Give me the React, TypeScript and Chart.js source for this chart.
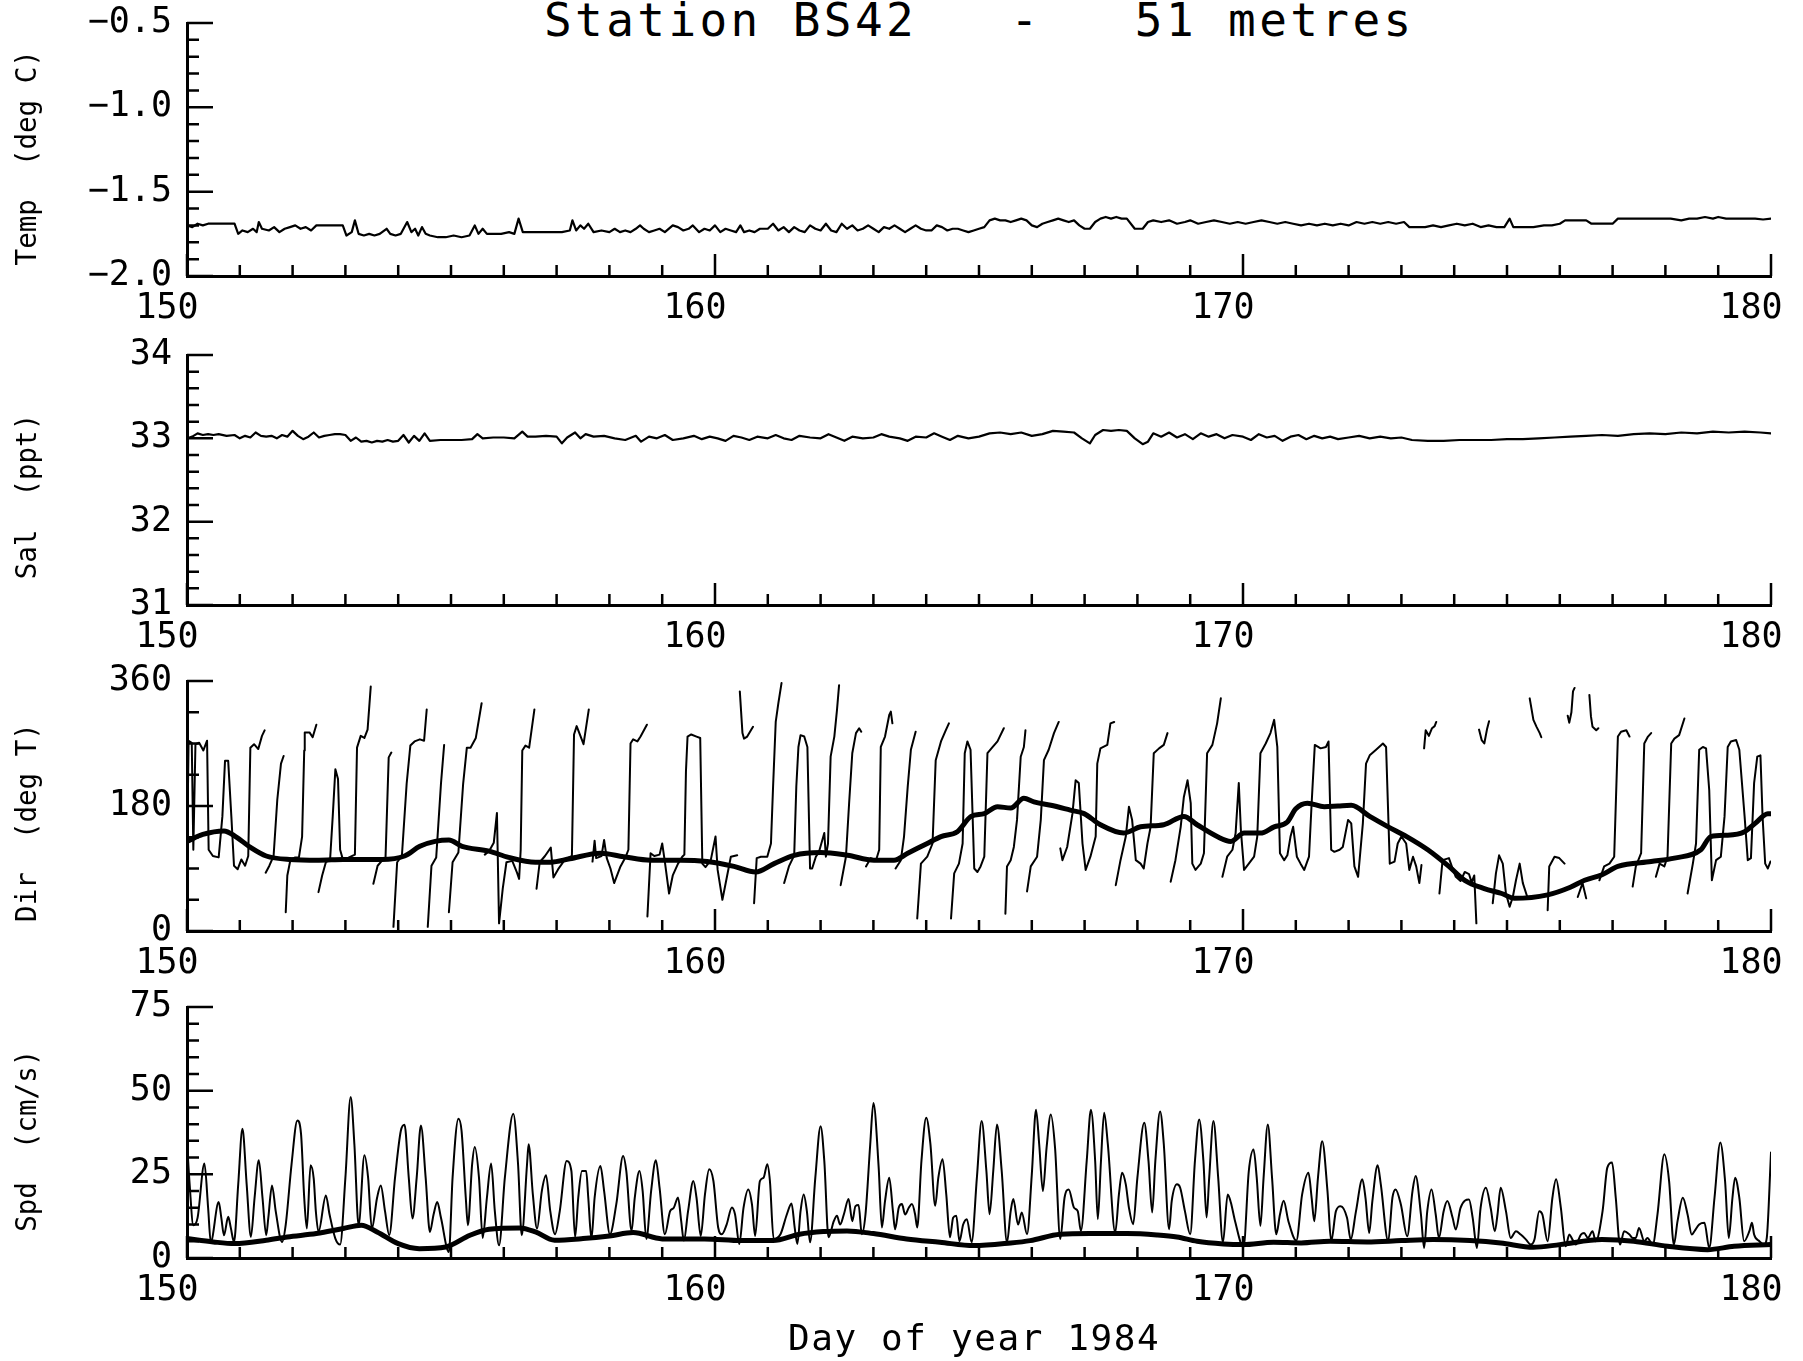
import React, { useEffect, useRef } from "react";
import { Chart, registerables } from "chart.js";

Chart.register(...registerables);

const FONT = '"DejaVu Sans Mono", monospace';

// ---------- axis values ----------
const X_MIN = 150;
const X_MAX = 180;
const X_LABELS = [150, 160, 170, 180];
const TEMP_TICKS = [-2.0, -1.5, -1.0, -0.5];
const SAL_TICKS = [31, 32, 33, 34];
const DIR_TICKS = [0, 180, 360];
const SPD_TICKS = [0, 25, 50, 75];

// ---------- data: [day, value] ----------
const TEMP = [
  [150.0,-1.70],[150.1,-1.71],[150.2,-1.69],[150.3,-1.70],[150.4,-1.69],[150.55,-1.69],[150.7,-1.69],[150.9,-1.69],
  [150.97,-1.75],[151.05,-1.73],[151.15,-1.74],[151.25,-1.72],[151.32,-1.74],[151.36,-1.68],[151.42,-1.72],[151.55,-1.73],
  [151.65,-1.71],[151.75,-1.74],[151.85,-1.72],[151.95,-1.71],[152.05,-1.70],[152.15,-1.72],[152.25,-1.71],[152.35,-1.73],
  [152.45,-1.70],[152.6,-1.70],[152.8,-1.70],[152.95,-1.70],[153.02,-1.76],[153.12,-1.74],[153.18,-1.67],[153.25,-1.75],
  [153.35,-1.76],[153.45,-1.75],[153.55,-1.76],[153.65,-1.75],[153.78,-1.72],[153.85,-1.75],[153.95,-1.76],[154.05,-1.75],
  [154.17,-1.68],[154.25,-1.74],[154.32,-1.72],[154.38,-1.76],[154.45,-1.71],[154.52,-1.75],[154.6,-1.76],[154.75,-1.77],
  [154.9,-1.77],[155.05,-1.76],[155.2,-1.77],[155.35,-1.76],[155.45,-1.70],[155.52,-1.75],[155.6,-1.72],[155.68,-1.75],
  [155.8,-1.75],[155.95,-1.75],[156.1,-1.74],[156.2,-1.75],[156.28,-1.66],[156.36,-1.74],[156.5,-1.74],[156.65,-1.74],
  [156.8,-1.74],[156.95,-1.74],[157.1,-1.74],[157.25,-1.73],[157.3,-1.67],[157.37,-1.73],[157.45,-1.70],[157.52,-1.72],
  [157.6,-1.69],[157.7,-1.74],[157.85,-1.73],[158.0,-1.74],[158.1,-1.72],[158.2,-1.74],[158.3,-1.73],[158.4,-1.74],
  [158.5,-1.72],[158.58,-1.70],[158.65,-1.72],[158.75,-1.74],[158.85,-1.73],[158.95,-1.72],[159.05,-1.74],[159.2,-1.70],
  [159.3,-1.71],[159.4,-1.73],[159.5,-1.72],[159.58,-1.70],[159.7,-1.74],[159.8,-1.72],[159.9,-1.73],[160.0,-1.70],
  [160.1,-1.74],[160.2,-1.72],[160.3,-1.73],[160.4,-1.74],[160.48,-1.70],[160.55,-1.74],[160.65,-1.73],[160.75,-1.74],
  [160.85,-1.72],[161.0,-1.72],[161.1,-1.69],[161.2,-1.73],[161.3,-1.71],[161.4,-1.74],[161.5,-1.71],[161.6,-1.73],
  [161.7,-1.74],[161.8,-1.70],[161.9,-1.72],[162.0,-1.73],[162.1,-1.69],[162.2,-1.73],[162.3,-1.74],[162.4,-1.69],
  [162.5,-1.72],[162.6,-1.70],[162.7,-1.73],[162.8,-1.72],[162.9,-1.70],[163.0,-1.72],[163.1,-1.74],[163.2,-1.71],
  [163.3,-1.72],[163.4,-1.70],[163.5,-1.72],[163.6,-1.74],[163.7,-1.72],[163.8,-1.70],[163.9,-1.72],[164.0,-1.73],
  [164.1,-1.73],[164.2,-1.70],[164.3,-1.71],[164.4,-1.73],[164.5,-1.72],[164.6,-1.72],[164.7,-1.73],[164.8,-1.74],
  [164.9,-1.73],[165.0,-1.72],[165.1,-1.71],[165.2,-1.67],[165.3,-1.66],[165.4,-1.67],[165.5,-1.67],[165.6,-1.68],
  [165.7,-1.67],[165.8,-1.66],[165.9,-1.67],[166.0,-1.70],[166.1,-1.71],[166.2,-1.69],[166.3,-1.68],[166.4,-1.67],
  [166.5,-1.66],[166.6,-1.67],[166.7,-1.68],[166.8,-1.67],[166.9,-1.70],[167.0,-1.72],[167.1,-1.72],[167.2,-1.68],
  [167.3,-1.66],[167.4,-1.65],[167.5,-1.66],[167.6,-1.65],[167.7,-1.66],[167.8,-1.66],[167.95,-1.72],[168.1,-1.72],
  [168.2,-1.68],[168.3,-1.67],[168.45,-1.68],[168.6,-1.67],[168.75,-1.69],[168.9,-1.68],[169.0,-1.67],[169.15,-1.69],
  [169.3,-1.68],[169.45,-1.67],[169.6,-1.68],[169.75,-1.69],[169.9,-1.68],[170.05,-1.69],[170.2,-1.68],[170.35,-1.67],
  [170.5,-1.68],[170.65,-1.69],[170.8,-1.68],[170.95,-1.69],[171.1,-1.70],[171.25,-1.69],[171.4,-1.70],[171.55,-1.69],
  [171.7,-1.70],[171.85,-1.69],[172.0,-1.70],[172.15,-1.68],[172.3,-1.69],[172.45,-1.68],[172.6,-1.69],[172.75,-1.68],
  [172.9,-1.69],[173.05,-1.68],[173.15,-1.71],[173.3,-1.71],[173.45,-1.71],[173.6,-1.70],[173.75,-1.71],[173.9,-1.70],
  [174.05,-1.69],[174.2,-1.70],[174.35,-1.69],[174.5,-1.71],[174.65,-1.70],[174.8,-1.71],[174.95,-1.71],[175.05,-1.66],
  [175.12,-1.71],[175.3,-1.71],[175.5,-1.71],[175.7,-1.70],[175.85,-1.70],[176.0,-1.69],[176.1,-1.67],[176.3,-1.67],
  [176.5,-1.67],[176.6,-1.69],[176.8,-1.69],[177.0,-1.69],[177.1,-1.66],[177.3,-1.66],[177.5,-1.66],[177.7,-1.66],
  [177.9,-1.66],[178.1,-1.66],[178.3,-1.67],[178.45,-1.66],[178.6,-1.66],[178.75,-1.65],[178.9,-1.66],[179.0,-1.65],
  [179.15,-1.66],[179.3,-1.66],[179.5,-1.66],[179.7,-1.66],[179.85,-1.665],[180.0,-1.66],
];

const SAL = [
  [150.0,33.00],[150.1,33.02],[150.2,33.06],[150.3,33.04],[150.4,33.05],[150.5,33.04],[150.6,33.05],[150.75,33.03],
  [150.9,33.04],[151.0,33.00],[151.1,33.03],[151.2,33.01],[151.3,33.07],[151.4,33.03],[151.5,33.02],[151.6,33.03],
  [151.7,33.00],[151.8,33.04],[151.9,33.02],[152.0,33.09],[152.1,33.03],[152.2,32.99],[152.3,33.02],[152.4,33.07],
  [152.5,33.01],[152.6,33.03],[152.7,33.04],[152.8,33.05],[152.9,33.05],[153.0,33.04],[153.1,32.97],[153.2,33.01],
  [153.3,32.96],[153.4,32.97],[153.5,32.95],[153.6,32.97],[153.7,32.96],[153.8,32.98],[153.9,32.96],[154.0,32.97],
  [154.1,33.04],[154.2,32.95],[154.3,33.03],[154.4,32.97],[154.5,33.06],[154.6,32.97],[154.8,32.98],[155.0,32.98],
  [155.2,32.98],[155.4,32.99],[155.5,33.05],[155.6,33.00],[155.8,33.01],[156.0,33.01],[156.2,33.00],[156.35,33.08],
  [156.45,33.02],[156.6,33.02],[156.8,33.03],[157.0,33.02],[157.1,32.94],[157.2,33.01],[157.35,33.07],[157.45,33.00],
  [157.55,33.05],[157.7,33.02],[157.9,33.03],[158.1,33.00],[158.3,32.98],[158.5,33.03],[158.6,32.96],[158.75,33.02],
  [158.9,33.00],[159.05,33.04],[159.2,32.98],[159.4,33.00],[159.6,33.03],[159.75,32.99],[159.9,33.02],[160.05,33.00],
  [160.2,32.97],[160.35,33.03],[160.5,33.01],[160.65,32.98],[160.8,33.02],[161.0,33.00],[161.15,33.04],[161.3,33.00],
  [161.45,32.98],[161.6,33.03],[161.8,33.01],[162.0,33.00],[162.15,33.05],[162.3,33.01],[162.45,32.97],[162.6,33.02],
  [162.8,33.00],[163.0,33.01],[163.15,33.05],[163.3,33.02],[163.5,33.00],[163.65,32.97],[163.8,33.02],[164.0,33.01],
  [164.15,33.06],[164.3,33.02],[164.45,32.98],[164.6,33.03],[164.8,33.00],[165.0,33.02],[165.2,33.06],[165.4,33.07],
  [165.6,33.05],[165.8,33.07],[166.0,33.03],[166.2,33.05],[166.4,33.09],[166.6,33.08],[166.8,33.07],[166.95,33.00],
  [167.1,32.94],[167.2,33.04],[167.35,33.10],[167.5,33.09],[167.65,33.10],[167.8,33.09],[167.95,33.00],[168.1,32.93],
  [168.2,32.96],[168.3,33.06],[168.45,33.02],[168.6,33.07],[168.75,33.01],[168.9,33.05],[169.05,32.99],[169.2,33.06],
  [169.35,33.02],[169.5,33.05],[169.65,33.00],[169.8,33.04],[170.0,33.02],[170.15,32.98],[170.3,33.05],[170.45,33.01],
  [170.6,33.03],[170.75,32.97],[170.9,33.02],[171.05,33.04],[171.2,32.99],[171.35,33.03],[171.5,33.00],[171.65,33.02],
  [171.8,32.99],[172.0,33.01],[172.2,33.03],[172.4,33.00],[172.6,33.02],[172.8,33.00],[173.0,33.01],[173.2,32.98],
  [173.5,32.97],[173.8,32.97],[174.1,32.98],[174.4,32.98],[174.7,32.98],[175.0,32.99],[175.3,32.99],[175.6,33.00],
  [175.9,33.01],[176.2,33.02],[176.5,33.03],[176.8,33.04],[177.1,33.03],[177.4,33.05],[177.7,33.06],[178.0,33.05],
  [178.3,33.07],[178.6,33.06],[178.9,33.08],[179.2,33.07],[179.5,33.08],[179.8,33.07],[180.0,33.06],
];

// Direction: pieces of trace (the plot breaks the line where it wraps past 0/360)
const DIR_SEGMENTS = [
  [[150.00,98],[150.03,274],[150.09,271],[150.12,117],[150.16,269],[150.23,271],[150.31,260],[150.38,274],[150.41,117],[150.49,108],[150.60,106],[150.67,165],[150.72,245],[150.78,245],[150.84,165],[150.89,94],[150.96,89],[151.03,103],[151.10,94],[151.16,108],[151.20,264],[151.27,269],[151.35,262],[151.42,281],[151.47,289]],
  [[151.49,84],[151.56,94],[151.64,108],[151.71,189],[151.78,241],[151.83,252]],
  [[151.87,27],[151.90,80],[151.96,103],[152.05,106],[152.12,106],[152.18,136],[152.22,260],[152.23,286],[152.32,286],[152.38,279],[152.45,297]],
  [[152.49,56],[152.56,80],[152.63,99],[152.71,103],[152.76,165],[152.81,233],[152.86,219],[152.90,117],[152.96,101],[153.07,106],[153.18,110],[153.22,264],[153.29,281],[153.36,278],[153.42,290],[153.48,352]],
  [[153.53,68],[153.61,94],[153.69,101],[153.76,106],[153.82,250],[153.87,257]],
  [[153.91,6],[153.98,99],[154.07,108],[154.16,212],[154.23,267],[154.31,273],[154.41,276],[154.49,274],[154.54,319]],
  [[154.56,6],[154.63,94],[154.72,106],[154.81,212],[154.87,268]],
  [[154.96,27],[155.03,99],[155.14,113],[155.23,212],[155.30,264],[155.37,264],[155.47,278],[155.58,328]],
  [[155.64,110],[155.72,115],[155.81,127],[155.87,170],[155.91,11],[155.98,61],[156.05,99],[156.16,101],[156.25,84],[156.29,75],[156.32,117],[156.35,260],[156.41,267],[156.48,264],[156.58,319]],
  [[156.62,61],[156.68,99],[156.78,108],[156.89,120],[156.94,77],[157.03,89],[157.16,103],[157.29,108],[157.33,283],[157.38,295],[157.44,283],[157.51,269],[157.61,319]],
  [[157.68,100],[157.72,130],[157.75,105],[157.85,108],[157.90,131],[157.95,105],[158.02,90],[158.09,69],[158.21,93],[158.31,107],[158.36,117],[158.40,270],[158.45,276],[158.53,273],[158.59,280],[158.71,297]],
  [[158.72,21],[158.78,112],[158.85,108],[158.95,110],[159.00,126],[159.05,100],[159.13,54],[159.20,80],[159.30,97],[159.38,107],[159.42,110],[159.45,230],[159.48,280],[159.55,283],[159.65,280],[159.72,278],[159.76,97],[159.82,92],[159.92,102],[160.01,136],[160.05,88],[160.14,45],[160.20,68],[160.30,107],[160.42,109]],
  [[160.47,345],[160.52,285],[160.55,277],[160.61,280],[160.68,289],[160.72,294]],
  [[160.74,40],[160.79,105],[160.87,107],[160.99,107],[161.06,126],[161.10,208],[161.15,301],[161.20,328],[161.26,357]],
  [[161.31,69],[161.40,93],[161.50,109],[161.54,208],[161.58,265],[161.62,282],[161.69,280],[161.75,265],[161.80,90],[161.84,90],[161.91,107],[161.97,114],[162.07,141],[162.10,107],[162.14,126],[162.19,251],[162.26,280],[162.31,318],[162.35,354]],
  [[162.38,66],[162.48,107],[162.54,184],[162.60,256],[162.67,285],[162.73,292],[162.77,287]],
  [[162.86,93],[162.95,105],[163.05,102],[163.11,117],[163.14,265],[163.22,280],[163.30,311],[163.33,316],[163.36,299]],
  [[163.42,90],[163.52,102],[163.58,136],[163.65,208],[163.71,261],[163.80,287]],
  [[163.83,18],[163.90,97],[164.02,107],[164.12,126],[164.18,246],[164.28,273],[164.37,289],[164.43,299]],
  [[164.47,18],[164.53,83],[164.62,97],[164.69,126],[164.73,256],[164.78,273],[164.84,261],[164.91,90],[164.97,85],[165.03,93],[165.10,107],[165.16,256],[165.26,265],[165.35,273],[165.47,292]],
  [[165.50,25],[165.53,93],[165.60,102],[165.66,121],[165.72,160],[165.79,251],[165.85,265],[165.88,289]],
  [[165.91,57],[165.98,93],[166.10,107],[166.17,160],[166.23,246],[166.32,261],[166.42,285],[166.51,301]],
  [[166.54,119],[166.58,102],[166.67,121],[166.77,169],[166.83,217],[166.89,213],[166.96,126],[167.02,88],[167.11,107],[167.21,136],[167.24,241],[167.30,263],[167.43,268],[167.49,299],[167.56,301]],
  [[167.59,66],[167.68,102],[167.78,136],[167.84,179],[167.90,160],[167.97,102],[168.06,97],[168.12,90],[168.19,126],[168.25,150],[168.31,256],[168.41,263],[168.50,268],[168.57,285]],
  [[168.63,71],[168.72,102],[168.82,150],[168.88,193],[168.95,217],[169.01,184],[169.04,97],[169.10,88],[169.20,97],[169.26,112],[169.32,256],[169.42,268],[169.51,299],[169.58,335]],
  [[169.61,78],[169.70,107],[169.80,117],[169.86,141],[169.92,213],[169.96,145],[170.02,88],[170.11,97],[170.21,107],[170.27,136],[170.33,256],[170.43,270],[170.52,285],[170.59,304],[170.65,265],[170.70,112],[170.78,102],[170.84,109],[170.90,136],[170.95,150],[171.02,107],[171.09,97],[171.16,88],[171.25,107],[171.30,184],[171.36,268],[171.47,263],[171.57,265],[171.62,273],[171.67,117],[171.73,114],[171.83,117],[171.89,121],[171.99,160],[172.05,155],[172.11,93],[172.18,78],[172.27,155],[172.33,241],[172.40,253],[172.52,261],[172.65,270],[172.71,265],[172.78,97],[172.87,100],[172.93,126],[173.00,136],[173.09,126],[173.15,88],[173.22,107],[173.28,93],[173.34,69],[173.38,95]],
  [[173.43,263],[173.46,289],[173.52,281],[173.58,292],[173.63,295],[173.66,301]],
  [[173.72,54],[173.78,102],[173.90,105],[173.97,90],[174.03,78],[174.12,72],[174.20,85],[174.28,82],[174.33,70],[174.38,80],[174.42,11]],
  [[174.47,290],[174.52,275],[174.57,270],[174.62,290],[174.66,302]],
  [[174.73,40],[174.79,83],[174.85,109],[174.92,97],[174.98,54],[175.05,35],[175.11,49],[175.17,73],[175.24,97],[175.30,69],[175.38,50]],
  [[175.43,335],[175.50,304],[175.56,294],[175.62,285],[175.65,279]],
  [[175.77,30],[175.80,93],[175.90,107],[175.99,105],[176.09,97]],
  [[176.15,310],[176.18,300],[176.22,315],[176.25,345],[176.28,350]],
  [[176.34,49],[176.43,69],[176.50,47]],
  [[176.56,340],[176.59,309],[176.62,294],[176.69,289],[176.73,292]],
  [[176.75,73],[176.84,93],[176.94,97],[177.03,107],[177.10,280],[177.16,287],[177.26,289],[177.32,280]],
  [[177.38,64],[177.44,93],[177.54,112],[177.60,270],[177.67,280],[177.73,285]],
  [[177.82,78],[177.89,97],[177.98,93],[178.04,107],[178.11,270],[178.17,277],[178.26,282],[178.36,306]],
  [[178.42,54],[178.52,97],[178.58,126],[178.64,261],[178.71,265],[178.77,263],[178.83,203],[178.88,73],[178.96,102],[179.05,107],[179.12,165],[179.18,265],[179.24,273],[179.34,275],[179.40,261],[179.50,165],[179.56,102],[179.62,105],[179.68,213],[179.74,251],[179.80,253],[179.84,165],[179.89,97],[179.94,90],[179.99,100]],
];

const DIR_SMOOTH = [
  [150.0,129],[150.3,139],[150.7,144],[150.92,136],[151.21,120],[151.5,108],[151.94,103],[152.5,102],[152.96,103],
  [153.69,103],[154.12,108],[154.41,122],[154.7,129],[154.96,131],[155.21,122],[155.72,115],[156.09,106],[156.6,99],
  [156.89,99],[157.25,104],[157.83,112],[158.27,107],[158.78,102],[159.35,102],[159.85,100],[160.36,93],[160.77,85],
  [161.12,97],[161.5,109],[162.0,113],[162.51,109],[163.01,102],[163.39,102],[163.65,112],[164.02,126],[164.28,136],
  [164.59,143],[164.85,165],[165.1,169],[165.35,179],[165.6,177],[165.85,191],[166.04,186],[166.36,181],[166.73,174],
  [166.99,169],[167.3,153],[167.74,141],[168.06,150],[168.5,153],[168.88,165],[169.13,153],[169.51,136],[169.77,129],
  [170.02,141],[170.33,141],[170.59,150],[170.84,157],[171.0,176],[171.22,184],[171.54,179],[171.8,180],[172.05,181],
  [172.4,165],[172.75,150],[173.1,136],[173.5,117],[173.9,93],[174.2,73],[174.57,61],[174.9,54],[175.14,47],
  [175.77,52],[176.2,63],[176.47,73],[176.8,81],[177.1,93],[177.73,100],[178.17,105],[178.67,117],[178.86,136],
  [179.18,138],[179.5,143],[179.7,155],[179.94,169],[180.0,169],
];

const SPD = [
  [150.00,34.7],[150.05,22],[150.12,9.8],[150.20,12],[150.33,28.2],[150.40,15],[150.45,4.8],[150.60,16.7],[150.65,12],[150.70,6.8],
  [150.78,12.3],[150.83,9],[150.89,4.8],[150.97,22],[151.05,38.6],[151.13,22],[151.21,6.3],[151.28,18],[151.36,29.2],[151.43,18],
  [151.50,6.8],[151.54,12],[151.61,21.7],[151.68,14],[151.80,4.8],[151.87,10],[151.98,28],[152.09,41.1],[152.16,37],[152.22,18],
  [152.27,8.8],[152.34,27.7],[152.40,23.7],[152.44,14],[152.49,7.8],[152.63,18.7],[152.70,13],[152.81,5.8],[152.90,4],[153.00,24],
  [153.10,48.1],[153.17,34],[153.25,9.8],[153.36,30.7],[153.43,24],[153.50,8.8],[153.60,18],[153.67,21.7],[153.75,14],[153.83,6.8],
  [153.94,24],[154.05,38],[154.12,39.8],[154.20,24],[154.27,11.8],[154.35,24],[154.43,39.6],[154.52,24],[154.60,7.8],[154.67,13],
  [154.74,16.7],[154.81,12],[154.96,1.8],[155.03,24],[155.14,41.6],[155.20,38],[155.28,18],[155.32,9.8],[155.40,28],[155.45,33.2],
  [155.53,24],[155.60,6],[155.68,18],[155.76,28.2],[155.83,14],[155.91,3.8],[156.02,24],[156.18,43.1],[156.27,28],[156.34,6.8],
  [156.44,28],[156.47,34],[156.55,19],[156.63,8.8],[156.72,20],[156.80,24.7],[156.88,14],[156.97,7.1],[157.06,14],[157.19,29],
  [157.28,26],[157.35,6.2],[157.41,18],[157.48,26],[157.56,26],[157.60,18],[157.66,5.7],[157.72,18],[157.83,27.5],[157.90,20],
  [158.01,7.1],[158.13,16],[158.26,30.5],[158.32,26],[158.42,8.1],[158.48,18],[158.57,26],[158.63,20],[158.70,5.7],[158.79,20],
  [158.88,29.2],[158.95,21],[159.05,7.1],[159.15,14],[159.22,15],[159.30,18.1],[159.36,11],[159.41,5.2],[159.49,14],[159.59,23],
  [159.65,18],[159.73,6.6],[159.81,19],[159.89,26.5],[159.97,23],[160.06,9.1],[160.13,7.1],[160.22,10],[160.32,15.1],[160.38,13],
  [160.46,4.2],[160.54,15],[160.63,20.5],[160.70,16],[160.76,6.6],[160.85,23],[160.92,24],[160.99,28],[161.04,23],[161.11,5.7],
  [161.24,7.1],[161.36,13],[161.45,16.3],[161.51,9],[161.56,4.2],[161.62,14],[161.68,19],[161.74,14],[161.80,4.7],[161.90,24],
  [162.00,39.4],[162.07,29],[162.15,6.2],[162.25,11],[162.31,12.6],[162.37,10],[162.44,13],[162.53,17.6],[162.60,11],[162.66,15.5],
  [162.72,15.8],[162.78,7.1],[162.85,13],[162.94,34],[163.00,46.3],[163.10,27],[163.16,9.1],[163.22,17],[163.30,24],[163.37,14],
  [163.41,8.6],[163.48,15],[163.54,16.1],[163.60,13],[163.67,15],[163.73,16.1],[163.79,13],[163.83,9.1],[163.91,29],[164.00,41.9],
  [164.08,34],[164.17,15.6],[164.23,24],[164.31,29.5],[164.38,19],[164.45,6.2],[164.51,12],[164.57,12.6],[164.63,5],[164.70,10],
  [164.77,11.6],[164.86,4.7],[164.96,24],[165.05,40.9],[165.14,26],[165.20,13.1],[165.27,26],[165.34,39.9],[165.43,26],[165.53,4.7],
  [165.60,14],[165.65,17.6],[165.74,10],[165.81,13.6],[165.91,7.1],[166.00,25],[166.08,44.3],[166.14,34],[166.21,20],[166.28,33],
  [166.36,42.9],[166.44,33],[166.54,5.7],[166.62,18],[166.70,20.5],[166.80,15],[166.87,14],[166.93,8.1],[167.04,29],[167.12,44.3],
  [167.20,29],[167.25,11.6],[167.31,29],[167.37,43.4],[167.44,34],[167.58,7.6],[167.65,19],[167.71,25.5],[167.78,22],[167.84,15],
  [167.92,10.1],[168.00,24],[168.13,40.4],[168.21,29],[168.28,13.6],[168.34,29],[168.43,43.8],[168.50,34],[168.60,8.6],[168.65,17],
  [168.75,22],[168.81,21],[168.90,14],[169.00,7.1],[169.09,29],[169.17,41.4],[169.25,29],[169.31,12.1],[169.36,24],[169.44,40.9],
  [169.53,24],[169.62,4.7],[169.71,19],[169.77,16.6],[169.85,11],[170.01,3.2],[170.11,26],[170.20,32.4],[170.26,24],[170.33,9.6],
  [170.39,24],[170.47,39.9],[170.55,24],[170.63,7.1],[170.70,13],[170.77,17.1],[170.86,11],[171.01,5.2],[171.12,19],[171.24,25.5],
  [171.30,18],[171.35,11],[171.42,24],[171.50,34.9],[171.60,20],[171.67,5],[171.76,14],[171.85,15.5],[171.97,12],[172.04,5.5],
  [172.14,14],[172.26,23.5],[172.32,18],[172.39,7.5],[172.45,17],[172.55,27.7],[172.61,22],[172.75,5],[172.83,18],[172.89,20.5],
  [172.99,16],[173.11,6.5],[173.21,20],[173.27,24.5],[173.37,13],[173.43,3],[173.49,14],[173.57,20.5],[173.65,13],[173.71,6],
  [173.80,14],[173.87,17],[173.97,12],[174.03,8.5],[174.12,15],[174.28,17.5],[174.35,12],[174.43,3],[174.50,15],[174.60,21],
  [174.69,15],[174.77,8],[174.82,13],[174.88,21],[174.98,14],[175.07,6],[175.17,8],[175.26,7],[175.36,5.5],[175.45,4],
  [175.52,5.5],[175.61,14],[175.67,13],[175.77,5],[175.86,18],[175.93,23.5],[176.02,15],[176.11,3.5],[176.18,7],[176.24,5.5],
  [176.30,4],[176.40,7],[176.46,7.5],[176.53,6],[176.62,8],[176.68,5],[176.81,14],[176.90,27],[176.99,28.5],[177.06,18],
  [177.14,4],[177.22,8],[177.32,7],[177.38,6],[177.44,6],[177.50,9],[177.60,5],[177.66,6],[177.76,4],[177.85,13],
  [177.98,31],[178.07,23],[178.16,4],[178.23,11],[178.33,18],[178.42,13],[178.50,7],[178.55,8],[178.64,10],[178.74,10.5],
  [178.83,3],[178.93,18],[179.04,34.5],[179.13,23],[179.20,6],[179.27,18],[179.32,24],[179.40,18],[179.49,5],[179.59,8],
  [179.64,10.5],[179.68,7],[179.78,5],[179.87,4],[179.92,6],[180.00,31.5],
];

const SPD_SMOOTH = [
  [150.0,5.8],[150.5,4.8],[150.9,4.3],[151.5,5.3],[151.9,6.3],[152.45,7.3],[152.96,8.8],[153.3,9.8],[153.6,7.8],[154.0,4.3],
  [154.4,2.8],[154.9,3.3],[155.36,6.8],[155.72,8.6],[156.3,9.0],[156.6,7.8],[156.96,5.3],[157.5,5.8],[158.0,6.6],[158.45,7.6],
  [159.0,5.7],[159.8,5.7],[160.5,5.2],[161.1,5.2],[161.6,7.1],[162.05,7.9],[162.5,8.1],[163.0,7.3],[163.63,5.7],[164.26,4.7],
  [164.9,3.7],[165.6,4.5],[165.97,5.2],[166.54,7.1],[167.1,7.3],[167.8,7.3],[168.37,6.9],[168.75,6.3],[169.13,5.0],[169.63,4.2],
  [170.0,4.0],[170.58,4.7],[171.1,4.5],[171.65,5.0],[172.35,4.8],[173.0,5.2],[173.6,5.5],[174.3,5.2],[174.88,4.5],[175.5,3.2],
  [176.0,4.0],[176.8,5.5],[177.4,5.0],[178.04,3.5],[178.8,2.5],[179.3,3.5],[180.0,4.0],
];

// ---------- helpers ----------
const toPts = (arr) => arr.map(([x, y]) => ({ x, y }));
const withGaps = (segs) => {
  const out = [];
  segs.forEach((seg, i) => {
    if (i > 0) {
      const prev = segs[i - 1];
      out.push({ x: (prev[prev.length - 1][0] + seg[0][0]) / 2, y: null });
    }
    seg.forEach(([x, y]) => out.push({ x, y }));
  });
  return out;
};

const PLOT_LEFT = 187;
const PLOT_RIGHT = 1771;
const PAD_TOP = 23;
const X_AXIS_H = 60;
const W = 1803;

const minusFmt = (v) => Number(v).toFixed(1).replace("-", "\u2212");
const intFmt = (v) => String(v);

const PANELS = [
  { id: "temp", top: 23, bottom: 276, min: -2.0, max: -0.5, ticks: TEMP_TICKS, minorStep: 0.1, minorCount: 15, majorEvery: 5,
    title: "Temp  (deg C) ", fmt: minusFmt,
    series: [{ data: toPts(TEMP), width: 2.2, smooth: false }] },
  { id: "sal", top: 355, bottom: 605, min: 31, max: 34, ticks: SAL_TICKS, minorStep: 0.2, minorCount: 15, majorEvery: 5,
    title: "Sal  (ppt)  ", fmt: intFmt,
    series: [{ data: toPts(SAL), width: 2.2, smooth: false }] },
  { id: "dir", top: 681, bottom: 931, min: 0, max: 360, ticks: DIR_TICKS, minorStep: 45, minorCount: 8, majorEvery: 4,
    title: "Dir  (deg T)  ", fmt: intFmt,
    series: [{ data: toPts(DIR_SMOOTH), width: 5, smooth: true }, { data: withGaps(DIR_SEGMENTS), width: 2, smooth: false }] },
  { id: "spd", top: 1007, bottom: 1258, min: 0, max: 75, ticks: SPD_TICKS, minorStep: 5, minorCount: 15, majorEvery: 5,
    title: "Spd  (cm/s) ", fmt: intFmt,
    series: [{ data: toPts(SPD_SMOOTH), width: 5, smooth: true }, { data: toPts(SPD), width: 2, smooth: true }] },
];

function makeTickPlugin(p) {
  return {
    id: "inwardTicks_" + p.id,
    afterDraw(chart) {
      const { ctx, chartArea } = chart;
      const xs = chart.scales.x;
      const ys = chart.scales.y;
      ctx.save();
      ctx.strokeStyle = "#000";
      ctx.lineWidth = 2.5;
      ctx.beginPath();
      for (let d = X_MIN; d <= X_MAX; d++) {
        const px = xs.getPixelForValue(d);
        const len = d % 10 === 0 ? 22 : 11;
        ctx.moveTo(px, chartArea.bottom);
        ctx.lineTo(px, chartArea.bottom - len);
      }
      for (let i = 0; i <= p.minorCount; i++) {
        const v = p.min + i * p.minorStep;
        const py = ys.getPixelForValue(v);
        const len = i % p.majorEvery === 0 ? 26 : 12;
        ctx.moveTo(chartArea.left, py);
        ctx.lineTo(chartArea.left + len, py);
      }
      ctx.stroke();
      ctx.restore();
    },
  };
}

function Panel({ p }) {
  const ref = useRef(null);
  const canvasTop = p.top - PAD_TOP;
  const canvasH = PAD_TOP + (p.bottom - p.top) + X_AXIS_H;
  useEffect(() => {
    const chart = new Chart(ref.current, {
      type: "line",
      data: {
        datasets: p.series.map((s) => ({
          data: s.data,
          borderColor: "#000",
          borderWidth: s.width,
          pointRadius: 0,
          fill: false,
          tension: s.smooth ? 0.4 : 0,
          cubicInterpolationMode: s.smooth ? "monotone" : "default",
          spanGaps: false,
          borderJoinStyle: "round",
          borderCapStyle: "round",
        })),
      },
      options: {
        responsive: false,
        animation: false,
        events: [],
        layout: { padding: { top: PAD_TOP, left: 0, right: W - PLOT_RIGHT, bottom: 0 } },
        plugins: { legend: { display: false }, tooltip: { enabled: false }, title: { display: false } },
        scales: {
          x: {
            type: "linear",
            min: X_MIN,
            max: X_MAX,
            afterBuildTicks: (s) => { s.ticks = X_LABELS.map((v) => ({ value: v })); },
            afterFit: (s) => { s.height = X_AXIS_H; s.paddingLeft = 0; s.paddingRight = 0; },
            grid: { display: false, drawTicks: false },
            border: { display: true, color: "#000", width: 3 },
            ticks: {
              color: "#000",
              font: { family: FONT, size: 35 },
              padding: 12,
              labelOffset: -20,
              maxRotation: 0,
              autoSkip: false,
              callback: (v) => String(v),
            },
          },
          y: {
            type: "linear",
            min: p.min,
            max: p.max,
            afterBuildTicks: (s) => { s.ticks = p.ticks.map((v) => ({ value: v })); },
            afterFit: (s) => { s.width = PLOT_LEFT; s.paddingTop = 0; s.paddingBottom = 0; },
            grid: { display: false, drawTicks: false },
            border: { display: true, color: "#000", width: 3 },
            ticks: {
              color: "#000",
              font: { family: FONT, size: 35 },
              padding: 15,
              autoSkip: false,
              callback: (v) => p.fmt(v),
            },
            title: {
              display: true,
              text: p.title,
              color: "#000",
              font: { family: FONT, size: 27.5 },
              padding: { top: 12, bottom: 0 },
            },
          },
        },
      },
      plugins: [makeTickPlugin(p)],
    });
    return () => chart.destroy();
  }, []);
  return (
    <canvas
      ref={ref}
      width={W}
      height={canvasH}
      style={{ position: "absolute", left: 0, top: canvasTop, width: W, height: canvasH }}
    />
  );
}

export default function App() {
  return (
    <div style={{ position: "fixed", left: 0, top: 0, width: W, height: 1361, background: "#fff", overflow: "hidden" }}>
      <div
        style={{
          position: "absolute", left: 544, top: -3, fontFamily: FONT, fontSize: 46, lineHeight: "46px",
          letterSpacing: "3.4px", whiteSpace: "pre", color: "#000",
        }}
      >
        {"Station BS42   -   51 metres"}
      </div>
      {PANELS.map((p) => (
        <Panel key={p.id} p={p} />
      ))}
      <div
        style={{
          position: "absolute", left: 788, top: 1320, fontFamily: FONT, fontSize: 36, lineHeight: "36px",
          letterSpacing: "1.6px", whiteSpace: "pre", color: "#000",
        }}
      >
        {"Day of year 1984"}
      </div>
    </div>
  );
}
